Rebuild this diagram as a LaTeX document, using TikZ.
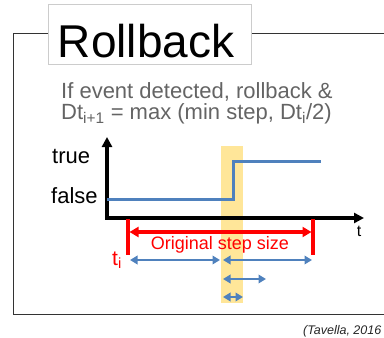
\documentclass[tikz,border=0pt]{standalone}
\usepackage{fontspec}
\setmainfont{Liberation Sans}
\usetikzlibrary{arrows.meta}

\definecolor{stepblue}{RGB}{79,129,189}
\definecolor{bandyellow}{RGB}{255,230,153}
\definecolor{textgray}{RGB}{100,100,100}

\tikzset{
  axis/.style={line width=3.2pt,-{Triangle[length=10pt,width=10pt]}},
  signal/.style={stepblue,line width=3pt},
  redbar/.style={red,line width=3.4pt},
  redspan/.style={red,line width=3.2pt,{Triangle[length=9pt,width=10pt]}-{Triangle[length=9pt,width=10pt]}},
  steparrow/.style={stepblue,line width=2.8pt,{Triangle[length=7.5pt,width=8.5pt]}-{Triangle[length=7.5pt,width=8.5pt]}},
  lbl/.style={inner sep=0pt,anchor=base west},
}

\begin{document}
\begin{tikzpicture}[x=1pt,y=-1pt]
\useasboundingbox (0,0) rectangle (384,338);

% frame and title box
\draw[line width=1pt,black!80] (384,33) -- (13,33) -- (13,314) -- (384,314);
\node[draw=black!20,fill=white,line width=0.8pt,minimum width=203pt,minimum height=60pt,inner sep=0pt] (titlebox) at (149.5,34) {};
\node[inner sep=0pt,anchor=base,font=\fontsize{46}{46}\selectfont] (title) at (146,57) {Rollback};

% rule text
\node[lbl,text=textgray,font=\fontsize{22}{22}\selectfont] (rule1) at (61,98) {If event detected, rollback \&};
\node[lbl,text=textgray,font=\fontsize{22}{22}\selectfont] (rule2) at (61,119) {Dt\textsubscript{i+1} = max (min step, Dt\textsubscript{i}/2)};

% event band
\fill[bandyellow] (221,146) rectangle (243,303);

% axes
\coordinate (origin) at (107,218);
\draw[axis] ([yshift=1.6pt]origin) -- (107,137);
\draw[axis] ([xshift=-1.6pt]origin) -- (364,218);
\node[lbl,font=\fontsize{22}{22}\selectfont] (true) at (52,163) {true};
\node[lbl,font=\fontsize{22}{22}\selectfont] (false) at (51,203) {false};
\node[inner sep=0pt,anchor=base,font=\fontsize{16}{16}\selectfont] (t) at (359,236) {t};

% signal
\draw[signal] (107,199) -- (233,199) -- (233,161) -- (321,161);

% original step
\coordinate (ti) at (128,219);
\coordinate (tn) at (313,219);
\draw[redbar] (ti) -- ++(0,36);
\draw[redbar] (tn) -- ++(0,36);
\draw[redspan] (129.5,232) -- (311.5,232);
\node[inner sep=0pt,anchor=base,text=red,font=\fontsize{18}{18}\selectfont] (orig) at (220,249) {Original step size};
\node[lbl,text=red,font=\fontsize{21}{21}\selectfont] (tilbl) at (112,265) {t\textsubscript{i}};

% halved steps
\foreach \xa/\xb/\y in {130/220/260, 223/312/260, 223/266/279, 223/243/297}
  \draw[steparrow] (\xa,\y) -- (\xb,\y);

\node[lbl,font=\itshape\fontsize{12.5}{12.5}\selectfont,text=black!85] (cite) at (303,334) {(Tavella, 2016};
\end{tikzpicture}
\end{document}
